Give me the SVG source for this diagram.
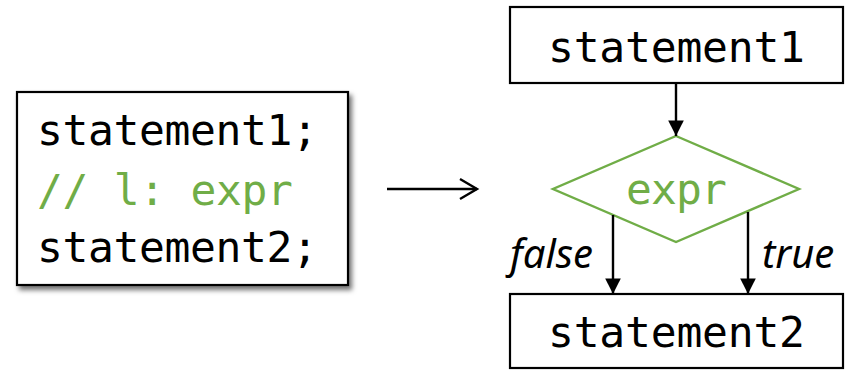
<svg xmlns="http://www.w3.org/2000/svg" width="855" height="370" viewBox="0 0 855 370">
  <style>
    .box { fill: #ffffff; stroke: #000000; stroke-width: 2.2; }
    .code { font-family: "DejaVu Sans Mono", "Liberation Mono", monospace; font-size: 43px; fill: #000000; }
    .green { fill: #70ad47; }
    .edge { stroke: #000000; stroke-width: 2.4; fill: none; }
    .lbl { font-family: "Noto Sans", "Open Sans", sans-serif; font-style: italic; font-size: 40px; fill: #000000; }
  </style>
  <defs>
    <marker id="tri" viewBox="0 0 10 10" refX="10" refY="5" markerWidth="6.5" markerHeight="6.5" markerUnits="strokeWidth" orient="auto">
      <path d="M0,0 L10,5 L0,10 Z" fill="#000000"/>
    </marker>
    <filter id="shadow" x="-10%" y="-10%" width="125%" height="130%">
      <feDropShadow dx="3" dy="4" stdDeviation="2.5" flood-color="#000000" flood-opacity="0.55"/>
    </filter>
  </defs>

  <!-- source code listing -->
  <g id="code">
    <rect class="box" x="17" y="92" width="331" height="193" filter="url(#shadow)"/>
    <text class="code" x="37" y="145" textLength="281">statement1;</text>
    <text class="code green" x="37" y="205" textLength="256">// l: expr</text>
    <text class="code" x="37" y="262" textLength="281">statement2;</text>
  </g>

  <!-- flowchart nodes -->
  <g id="stmt1">
    <rect class="box" x="510" y="7" width="333" height="76"/>
    <text class="code" x="548" y="62" textLength="257">statement1</text>
  </g>
  <g id="cond">
    <polygon points="676,136 799,189 676,242 553,189" fill="#ffffff" stroke="#70ad47" stroke-width="2.4"/>
    <text class="code green" x="626" y="204" textLength="101">expr</text>
  </g>
  <g id="stmt2">
    <rect class="box" x="510" y="294" width="333" height="74"/>
    <text class="code" x="548" y="347" textLength="257">statement2</text>
  </g>

  <!-- connectors -->
  <g id="edges">
    <path class="edge" d="M387,189 H477"/>
    <path class="edge" d="M460,179 L477,189 L460,199"/>
    <path class="edge" d="M676,83 V136" marker-end="url(#tri)"/>
    <path class="edge" d="M613,215 V294" marker-end="url(#tri)"/>
    <path class="edge" d="M748,212 V294" marker-end="url(#tri)"/>
    <text class="lbl" x="510" y="268">false</text>
    <text class="lbl" x="762" y="268">true</text>
  </g>
</svg>
